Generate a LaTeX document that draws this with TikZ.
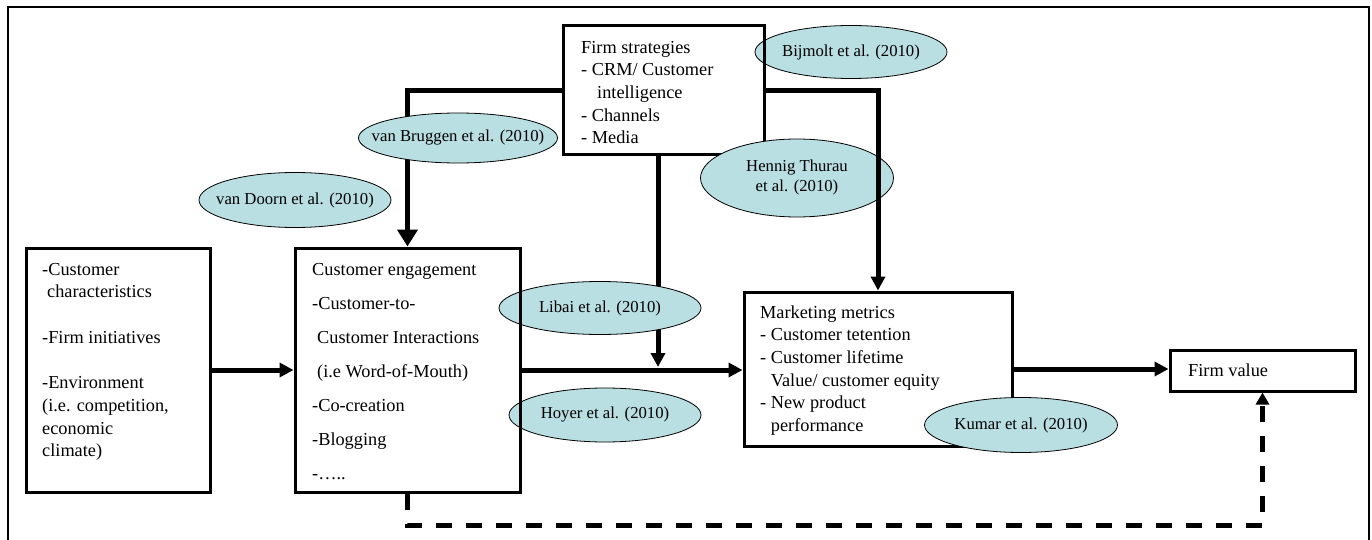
\documentclass[tikz,border=0pt]{standalone}
\usepackage{fontspec}
\setmainfont{Liberation Serif}
\usetikzlibrary{arrows.meta,shapes.geometric}
\pgfdeclarelayer{bg}\pgfdeclarelayer{mid}\pgfsetlayers{bg,mid,main}
\definecolor{ellfill}{RGB}{185,223,227}
\newcommand{\mfs}{\fontsize{18.3pt}{22.7pt}\selectfont}
\newcommand{\cfs}{\fontsize{18.3pt}{34pt}\selectfont}
\newcommand{\efs}{\fontsize{16.7pt}{20pt}\selectfont}
\begin{document}
\begin{tikzpicture}[x=1pt,y=-1pt,
 box/.style={draw, line width=3pt, rectangle, inner sep=0pt},
 txt/.style={inner sep=0pt, anchor=north west, align=left, font=\mfs},
 ctxt/.style={inner sep=0pt, anchor=north west, align=left, font=\cfs},
 cite/.style={ellipse, draw, line width=0.8pt, fill=ellfill, inner sep=0pt, font=\efs},
 conn/.style={line width=5pt, -{Triangle[length=14pt,width=14pt]}},
 bigconn/.style={line width=5pt, -{Triangle[length=17pt,width=20pt]}},
 dconn/.style={line width=5pt, dash pattern=on 16pt off 14pt, -{Triangle[length=12pt,width=13pt]}},
 frame/.style={line width=2pt}]
\useasboundingbox (0,0) rectangle (1372,540);
% boxes
\node[box, minimum width=201pt, minimum height=129pt] (fs) at (663.5,90.5) {};
\node[box, minimum width=184pt, minimum height=244pt] (lb) at (118,370) {};
\node[box, minimum width=225pt, minimum height=244pt] (ce) at (407.5,370) {};
\node[box, minimum width=268pt, minimum height=154pt] (mm) at (878,369) {};
\node[box, minimum width=185pt, minimum height=41pt] (fv) at (1262.5,370.5) {};
% texts
\node[txt] (fst) at (581,37.1) {\strut Firm strategies\\- CRM/ Customer\\\hspace*{16pt}intelligence\\- Channels\\- Media};
\node[txt] (lbt) at (42,259.1) {\strut -Customer\\\hspace*{5pt}characteristics\\[22.7pt]-Firm initiatives\\[22.7pt]-Environment\\(i.e. competition,\\economic\\climate)};
\node[ctxt] (cet) at (312,251.2) {\strut Customer engagement\\-Customer-to-\\\hspace*{5pt}Customer Interactions\\\hspace*{5pt}(i.e Word-of-Mouth)\\-Co-creation\\-Blogging\\-…..};
\node[txt] (mmt) at (760,302.1) {\strut Marketing metrics\\- Customer tetention\\- Customer lifetime\\\hspace*{10.7pt}Value/ customer equity\\- New product\\\hspace*{10.7pt}performance};
\node[inner sep=0pt, anchor=base west, font=\mfs] (fvt) at (1188,376) {Firm value};
\coordinate (j) at (658,367);
\coordinate (dz) at (1262.5,525);
% lower layer
\begin{pgfonlayer}{bg}
\draw[frame] (8,545) -- (8,7) -- (1369,7) -- (1369,545);
\draw[bigconn] (fs.west) -| (ce.north);
\draw[conn] ([xshift=-5.5pt]fs.south) -- (j);
\end{pgfonlayer}
\begin{pgfonlayer}{mid}
\node[cite, minimum width=192pt, minimum height=53pt] (bij) at (851,52) {\makebox[0pt]{Bijmolt et al. (2010)}};
\node[cite, minimum width=199pt, minimum height=50pt] (vbr) at (458,138) {\makebox[0pt]{van Bruggen et al. (2010)}};
\node[cite, minimum width=192pt, minimum height=55pt] (vdo) at (295,200) {\makebox[0pt]{van Doorn et al. (2010)}};
\node[cite, minimum width=202pt, minimum height=53pt] (lib) at (600,308) {\makebox[0pt]{Libai et al. (2010)}};
\node[cite, minimum width=192pt, minimum height=54pt] (hoy) at (605,415) {\makebox[0pt]{Hoyer et al. (2010)}};
\end{pgfonlayer}
% upper items
\node[cite, minimum width=193pt, minimum height=78pt] (hen) at (797,178) {\makebox[0pt]{\begin{tabular}{@{}c@{}}Hennig Thurau\\ et al. (2010)\end{tabular}}};
\draw[conn] (fs.east) -| (mm.north);
\node[cite, minimum width=193pt, minimum height=55pt] (kum) at (1021,425) {\makebox[0pt]{Kumar et al. (2010)}};
\draw[conn] (lb.east) -- (ce.west);
\draw[conn] (ce.east) -- (ce.east -| mm.west);
\draw[conn] (mm.east) -- (mm.east -| fv.west);
\draw[dconn] (ce.south) |- (dz) -- (fv.south);
\end{tikzpicture}
\end{document}
